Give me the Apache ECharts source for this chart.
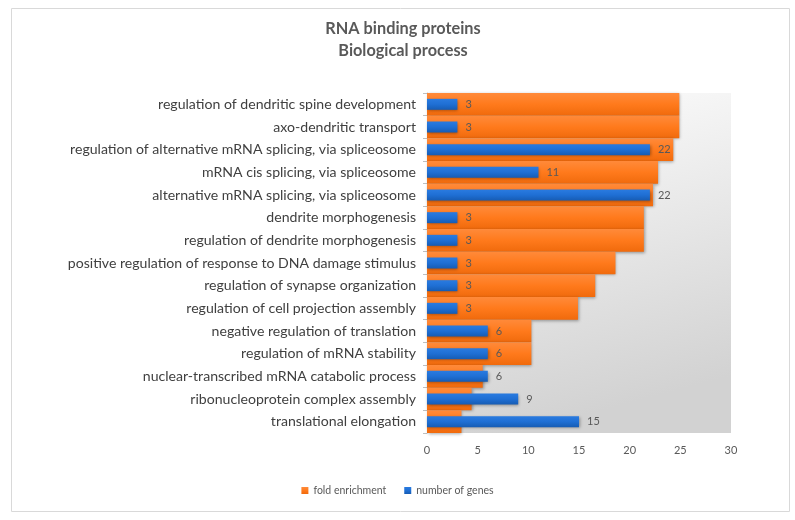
<!DOCTYPE html>
<html>
<head>
<meta charset="utf-8">
<script src="https://cdn.jsdelivr.net/npm/echarts@6/dist/echarts.min.js"></script>
<style>
  html, body { margin: 0; padding: 0; background: #fff; }
  #main { width: 795px; height: 520px; }
</style>
</head>
<body>
<div id="main"></div>
<script>
// categories, top to bottom
var categories = [
  'regulation of dendritic spine development',
  'axo-dendritic transport',
  'regulation of alternative mRNA splicing, via spliceosome',
  'mRNA cis splicing, via spliceosome',
  'alternative mRNA splicing, via spliceosome',
  'dendrite morphogenesis',
  'regulation of dendrite morphogenesis',
  'positive regulation of response to DNA damage stimulus',
  'regulation of synapse organization',
  'regulation of cell projection assembly',
  'negative regulation of translation',
  'regulation of mRNA stability',
  'nuclear-transcribed mRNA catabolic process',
  'ribonucleoprotein complex assembly',
  'translational elongation'
];
var foldEnrichment = [24.9, 24.9, 24.3, 22.8, 22.3, 21.4, 21.4, 18.6, 16.6, 14.9, 10.3, 10.3, 5.5, 4.4, 3.4];
var numberOfGenes = [3, 3, 22, 11, 22, 3, 3, 3, 3, 3, 6, 6, 6, 9, 15];
var xTicks = [0, 5, 10, 15, 20, 25, 30];

var txt = '#595959';
var font = 'Lato';

var myChart = echarts.init(document.getElementById('main'));
var option = {
  animation: false,
  textStyle: { fontFamily: font },
  title: {
    text: 'RNA binding proteins\nBiological process',
    left: 398, top: 13, textAlign: 'center',
    textStyle: { fontSize: 16.3, fontWeight: 'bold', color: txt, lineHeight: 22, fontFamily: font }
  },
  graphic: [{
    type: 'rect', left: 9, top: 6,
    shape: { width: 778, height: 503 },
    style: { fill: 'none', stroke: '#d9d9d9', lineWidth: 1 },
    z: -10
  }],
  legend: {
    bottom: 19, left: 'center',
    itemWidth: 7, itemHeight: 7, itemGap: 18,
    icon: 'rect',
    textStyle: { fontSize: 10.5, color: txt, fontFamily: font },
    data: ['fold enrichment', 'number of genes']
  },
  grid: {
    left: 427, right: 64, top: 93, bottom: 87,
    show: true, borderWidth: 0,
    backgroundColor: new echarts.graphic.LinearGradient(0, 0, 0.3, 1, [
      { offset: 0, color: '#ffffff' },
      { offset: 1, color: '#d2d2d2' }
    ])
  },
  xAxis: {
    type: 'value', min: xTicks[0], max: xTicks[xTicks.length - 1], interval: 5,
    axisLine: { show: false }, axisTick: { show: false },
    splitLine: { show: false },
    axisLabel: { color: txt, fontSize: 11, margin: 12 }
  },
  yAxis: [{
    type: 'category', data: categories, inverse: true,
    axisLine: { show: true, lineStyle: { color: '#bfbfbf' } },
    axisTick: { show: true, length: 4, lineStyle: { color: '#bfbfbf' } },
    axisLabel: { color: '#404040', fontSize: 14.1, margin: 11 }
  }, {
    type: 'category', data: categories, inverse: true, show: false
  }],
  series: [{
    name: 'fold enrichment', type: 'bar', yAxisIndex: 0,
    data: foldEnrichment, barWidth: '100%',
    itemStyle: {
      color: new echarts.graphic.LinearGradient(0, 0, 0, 1, [
        { offset: 0, color: '#ff8a3a' },
        { offset: 0.5, color: '#ff7a1c' },
        { offset: 1, color: '#f06a0c' }
      ]),
      shadowBlur: 3, shadowOffsetX: 1, shadowOffsetY: 1, shadowColor: 'rgba(0,0,0,0.35)'
    }
  }, {
    name: 'number of genes', type: 'bar', yAxisIndex: 1,
    data: numberOfGenes, barWidth: 11, z: 3,
    itemStyle: {
      color: new echarts.graphic.LinearGradient(0, 0, 0, 1, [
        { offset: 0, color: '#2a7be0' },
        { offset: 0.5, color: '#1f6fd4' },
        { offset: 1, color: '#165cb4' }
      ]),
      shadowBlur: 3, shadowOffsetX: 1, shadowOffsetY: 1, shadowColor: 'rgba(0,0,0,0.35)'
    },
    label: { show: true, position: 'right', distance: 8, color: txt, fontSize: 11 }
  }],
  color: ['#ff7a1c', '#1f6fd4']
};
myChart.setOption(option);
</script>
</body>
</html>
